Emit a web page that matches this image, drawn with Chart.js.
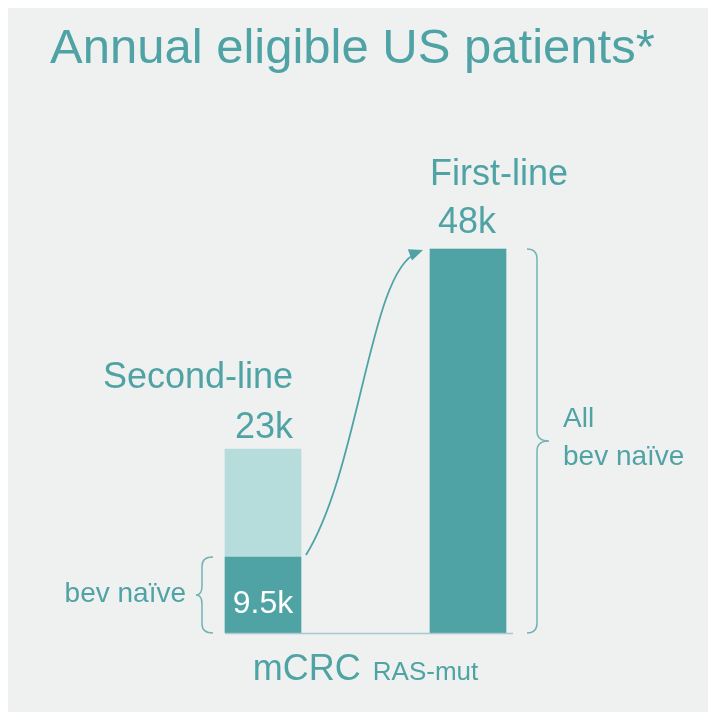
<!DOCTYPE html>
<html>
<head>
<meta charset="utf-8">
<script src="https://cdn.jsdelivr.net/npm/chart.js@4"></script>
<style>
  html, body { margin: 0; padding: 0; background: #ffffff; }
  canvas { display: block; }
</style>
</head>
<body>
<canvas id="c" width="708" height="712"></canvas>
<script>
const categories = ['Second-line', 'First-line'];
const bevNaive = [9.5, 48];
const bevExperienced = [13.5, 0];
const totalLabels = ['23k', '48k'];
const naiveLabels = ['9.5k', ''];
const titleText = 'Annual eligible US patients*';

const TEAL = '#50a3a5';
const LIGHT = '#b6dcdb';
const BRACE = '#72b4b5';
const AXIS = '#a9c8cf';
const FONT = '"Liberation Sans", Arial, Helvetica, sans-serif';

function brace(ctx, x0, x1, x2, y1, y2, r) {
  const ym = (y1 + y2) / 2;
  ctx.beginPath();
  ctx.moveTo(x0, y1);
  ctx.quadraticCurveTo(x1, y1, x1, y1 + r);
  ctx.lineTo(x1, ym - r);
  ctx.quadraticCurveTo(x1, ym, x2, ym);
  ctx.quadraticCurveTo(x1, ym, x1, ym + r);
  ctx.lineTo(x1, y2 - r);
  ctx.quadraticCurveTo(x1, y2, x0, y2);
  ctx.stroke();
  return ym;
}

const decor = {
  id: 'decor',
  beforeDraw(chart) {
    const ctx = chart.ctx;
    ctx.save();
    ctx.fillStyle = '#ffffff';
    ctx.fillRect(0, 0, chart.width, chart.height);
    ctx.fillStyle = '#eff1f0';
    ctx.fillRect(8, 8, chart.width - 8, chart.height - 8);
    ctx.restore();
  },
  afterDatasetsDraw(chart) {
    const ctx = chart.ctx;
    const m0 = chart.getDatasetMeta(0);
    const m1 = chart.getDatasetMeta(1);
    const a = m0.data[0];          // second-line bev naive
    const aTop = m1.data[0];       // second-line bev experienced (top)
    const b = m0.data[1];          // first-line
    const base = a.base;
    const aw = a.width / 2;
    const bw = b.width / 2;
    ctx.save();

    // baseline axis line
    ctx.strokeStyle = AXIS;
    ctx.lineWidth = 1.5;
    ctx.beginPath();
    ctx.moveTo(a.x - aw, base + 0.5);
    ctx.lineTo(b.x + bw + 7, base + 0.5);
    ctx.stroke();

    // title
    ctx.fillStyle = TEAL;
    ctx.textBaseline = 'alphabetic';
    ctx.textAlign = 'left';
    ctx.font = '49px ' + FONT;
    ctx.fillText(titleText, 50, 63);

    // labels second-line
    ctx.font = '36px ' + FONT;
    ctx.textAlign = 'right';
    ctx.fillText(categories[0], a.x + 30, aTop.y - 61);
    ctx.textAlign = 'center';
    ctx.fillText(totalLabels[0], a.x + 1, aTop.y - 11);
    // first-line
    ctx.textAlign = 'left';
    ctx.fillText(categories[1], b.x - bw, b.y - 64);
    ctx.textAlign = 'center';
    ctx.fillText(totalLabels[1], b.x - 1, b.y - 16);

    // inner label
    ctx.fillStyle = '#ffffff';
    ctx.font = '32px ' + FONT;
    ctx.fillText(naiveLabels[0], a.x, base - 20);

    // braces
    ctx.strokeStyle = BRACE;
    ctx.lineWidth = 1.5;
    const ymL = brace(ctx, a.x - aw - 12, a.x - aw - 23, a.x - aw - 29, a.y, base, 9);
    const ymR = brace(ctx, b.x + bw + 21, b.x + bw + 31, b.x + bw + 43, b.y, base, 10);

    ctx.fillStyle = TEAL;
    ctx.font = '28px ' + FONT;
    ctx.textAlign = 'right';
    ctx.fillText('bev naïve', a.x - aw - 39, ymL + 7);
    ctx.textAlign = 'left';
    ctx.fillText('All', b.x + bw + 57, ymR - 14);
    ctx.fillText('bev naïve', b.x + bw + 57, ymR + 24);

    // x label
    const mid = (a.x + b.x) / 2;
    ctx.font = '36px ' + FONT;
    const w1 = ctx.measureText('mCRC').width;
    ctx.font = '26px ' + FONT;
    const w2 = ctx.measureText('RAS-mut').width;
    const gap = 12;
    const startX = mid - (w1 + gap + w2) / 2;
    ctx.font = '36px ' + FONT;
    ctx.fillText('mCRC', startX, base + 47);
    ctx.font = '26px ' + FONT;
    ctx.fillText('RAS-mut', startX + w1 + gap, base + 47);

    // arrow
    const p0 = { x: a.x + aw + 5, y: a.y - 2 };
    const p3 = { x: b.x - bw - 7, y: b.y + 1 };
    const p1 = { x: p0.x + 54, y: p0.y - 87 };
    const p2 = { x: p3.x - 53, y: p3.y + 20 };
    ctx.strokeStyle = TEAL;
    ctx.lineWidth = 1.8;
    ctx.beginPath();
    ctx.moveTo(p0.x, p0.y);
    ctx.bezierCurveTo(p1.x, p1.y, p2.x, p2.y, p3.x - 6, p3.y + 3);
    ctx.stroke();
    const ang = Math.atan2(p3.y - p2.y, p3.x - p2.x);
    const L = 14, W = 6;
    ctx.beginPath();
    ctx.moveTo(p3.x, p3.y);
    ctx.lineTo(p3.x - L * Math.cos(ang) + W * Math.sin(ang), p3.y - L * Math.sin(ang) - W * Math.cos(ang));
    ctx.lineTo(p3.x - L * Math.cos(ang) - W * Math.sin(ang), p3.y - L * Math.sin(ang) + W * Math.cos(ang));
    ctx.closePath();
    ctx.fillStyle = TEAL;
    ctx.fill();

    ctx.restore();
  }
};

new Chart(document.getElementById('c'), {
  type: 'bar',
  data: {
    labels: categories,
    datasets: [
      { label: 'bev naïve', data: bevNaive, backgroundColor: TEAL, borderWidth: 0, barThickness: 76 },
      { label: 'bev experienced', data: bevExperienced, backgroundColor: LIGHT, borderWidth: 0, barThickness: 76 }
    ]
  },
  options: {
    responsive: false,
    animation: false,
    events: [],
    layout: { padding: { left: 160.5, right: 137.5, top: 153, bottom: 79 } },
    scales: {
      x: { stacked: true, display: false },
      y: { stacked: true, display: false, min: 0, max: 60 }
    },
    plugins: {
      legend: { display: false },
      tooltip: { enabled: false }
    }
  },
  plugins: [decor]
});
</script>
</body>
</html>
